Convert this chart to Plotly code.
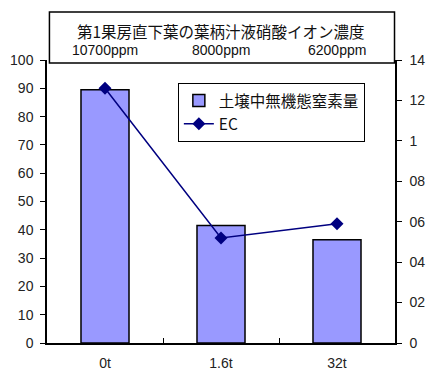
import plotly.graph_objects as go

categories = ["0t", "1.6t", "32t"]
nitrogen = [89.5, 41.5, 36.5]
ec = [1.26, 0.52, 0.59]
ppm_labels = ["10700ppm", "8000ppm", "6200ppm"]
title_text = "第1果房直下葉の葉柄汁液硝酸イオン濃度"
left_ticks = [0, 10, 20, 30, 40, 50, 60, 70, 80, 90, 100]
right_tickvals = [0, 0.2, 0.4, 0.6, 0.8, 1.0, 1.2, 1.4]
right_ticktext = ["0", "02", "04", "06", "08", "1", "12", "14"]

FONT = "Liberation Sans, Arial, Noto Sans CJK JP, sans-serif"
JFONT = "Noto Sans CJK JP, Liberation Sans, sans-serif"

fig = go.Figure()
fig.add_trace(go.Bar(
    x=categories, y=nitrogen, name="土壌中無機態窒素量",
    marker=dict(color="#9999FF", line=dict(color="black", width=1.5)),
    width=0.414, yaxis="y",
))
fig.add_trace(go.Scatter(
    x=categories, y=ec, name="EC", mode="lines+markers",
    line=dict(color="#000080", width=1.5),
    marker=dict(symbol="diamond", size=10, color="#000080"),
    yaxis="y2",
))

fig.update_layout(
    width=427, height=378,
    margin=dict(l=47, r=32, t=60, b=35, autoexpand=False),
    paper_bgcolor="white", plot_bgcolor="white",
    font=dict(family=FONT, size=13, color="#222"),
    showlegend=True,
    legend=dict(
        x=0.376, y=0.919, xanchor="left", yanchor="top",
        bordercolor="black", borderwidth=1, bgcolor="white",
        font=dict(family=JFONT, size=15.5, color="#111"),
        tracegroupgap=0, itemwidth=30,
    ),
    xaxis=dict(
        type="category", range=[-0.5, 2.5], automargin=False,
        showline=True, linecolor="black", linewidth=1.5,
        ticks="inside", tickson="boundaries", ticklen=5, tickcolor="black",
        showgrid=False, zeroline=False, ticklabelstandoff=6,
        tickfont=dict(size=14, color="#222"),
    ),
    yaxis=dict(
        range=[0, 100], tickvals=left_ticks, automargin=False,
        showline=True, linecolor="black", linewidth=1.5,
        ticks="outside", ticklen=5, tickcolor="black",
        showgrid=False, zeroline=False, ticklabelstandoff=4,
        tickfont=dict(size=14, color="#222"),
    ),
    yaxis2=dict(
        range=[0, 1.4], tickvals=right_tickvals, ticktext=right_ticktext,
        overlaying="y", side="right", automargin=False,
        showline=True, linecolor="black", linewidth=1.5,
        ticks="outside", ticklen=5, tickcolor="black",
        showgrid=False, zeroline=False, ticklabelstandoff=5,
        tickfont=dict(size=14, color="#222"),
    ),
    bargap=0.586,
)

# title box
fig.add_shape(type="rect", xref="paper", yref="paper",
              x0=0.007, x1=0.9986, y0=0.989, y1=1.1696,
              line=dict(color="black", width=1.5), fillcolor="white",
              layer="above")
fig.add_annotation(text=title_text, xref="paper", yref="paper",
                   x=0.5, y=1.1025, xanchor="center", yanchor="middle",
                   showarrow=False,
                   font=dict(family=JFONT, size=15.5, color="#111"))
for cat, lab in zip(categories, ppm_labels):
    fig.add_annotation(text=lab, xref="x", yref="paper", x=cat, y=1.037,
                       xanchor="center", yanchor="middle", showarrow=False,
                       font=dict(family=FONT, size=14, color="#111"))

fig.write_html("out.html")
